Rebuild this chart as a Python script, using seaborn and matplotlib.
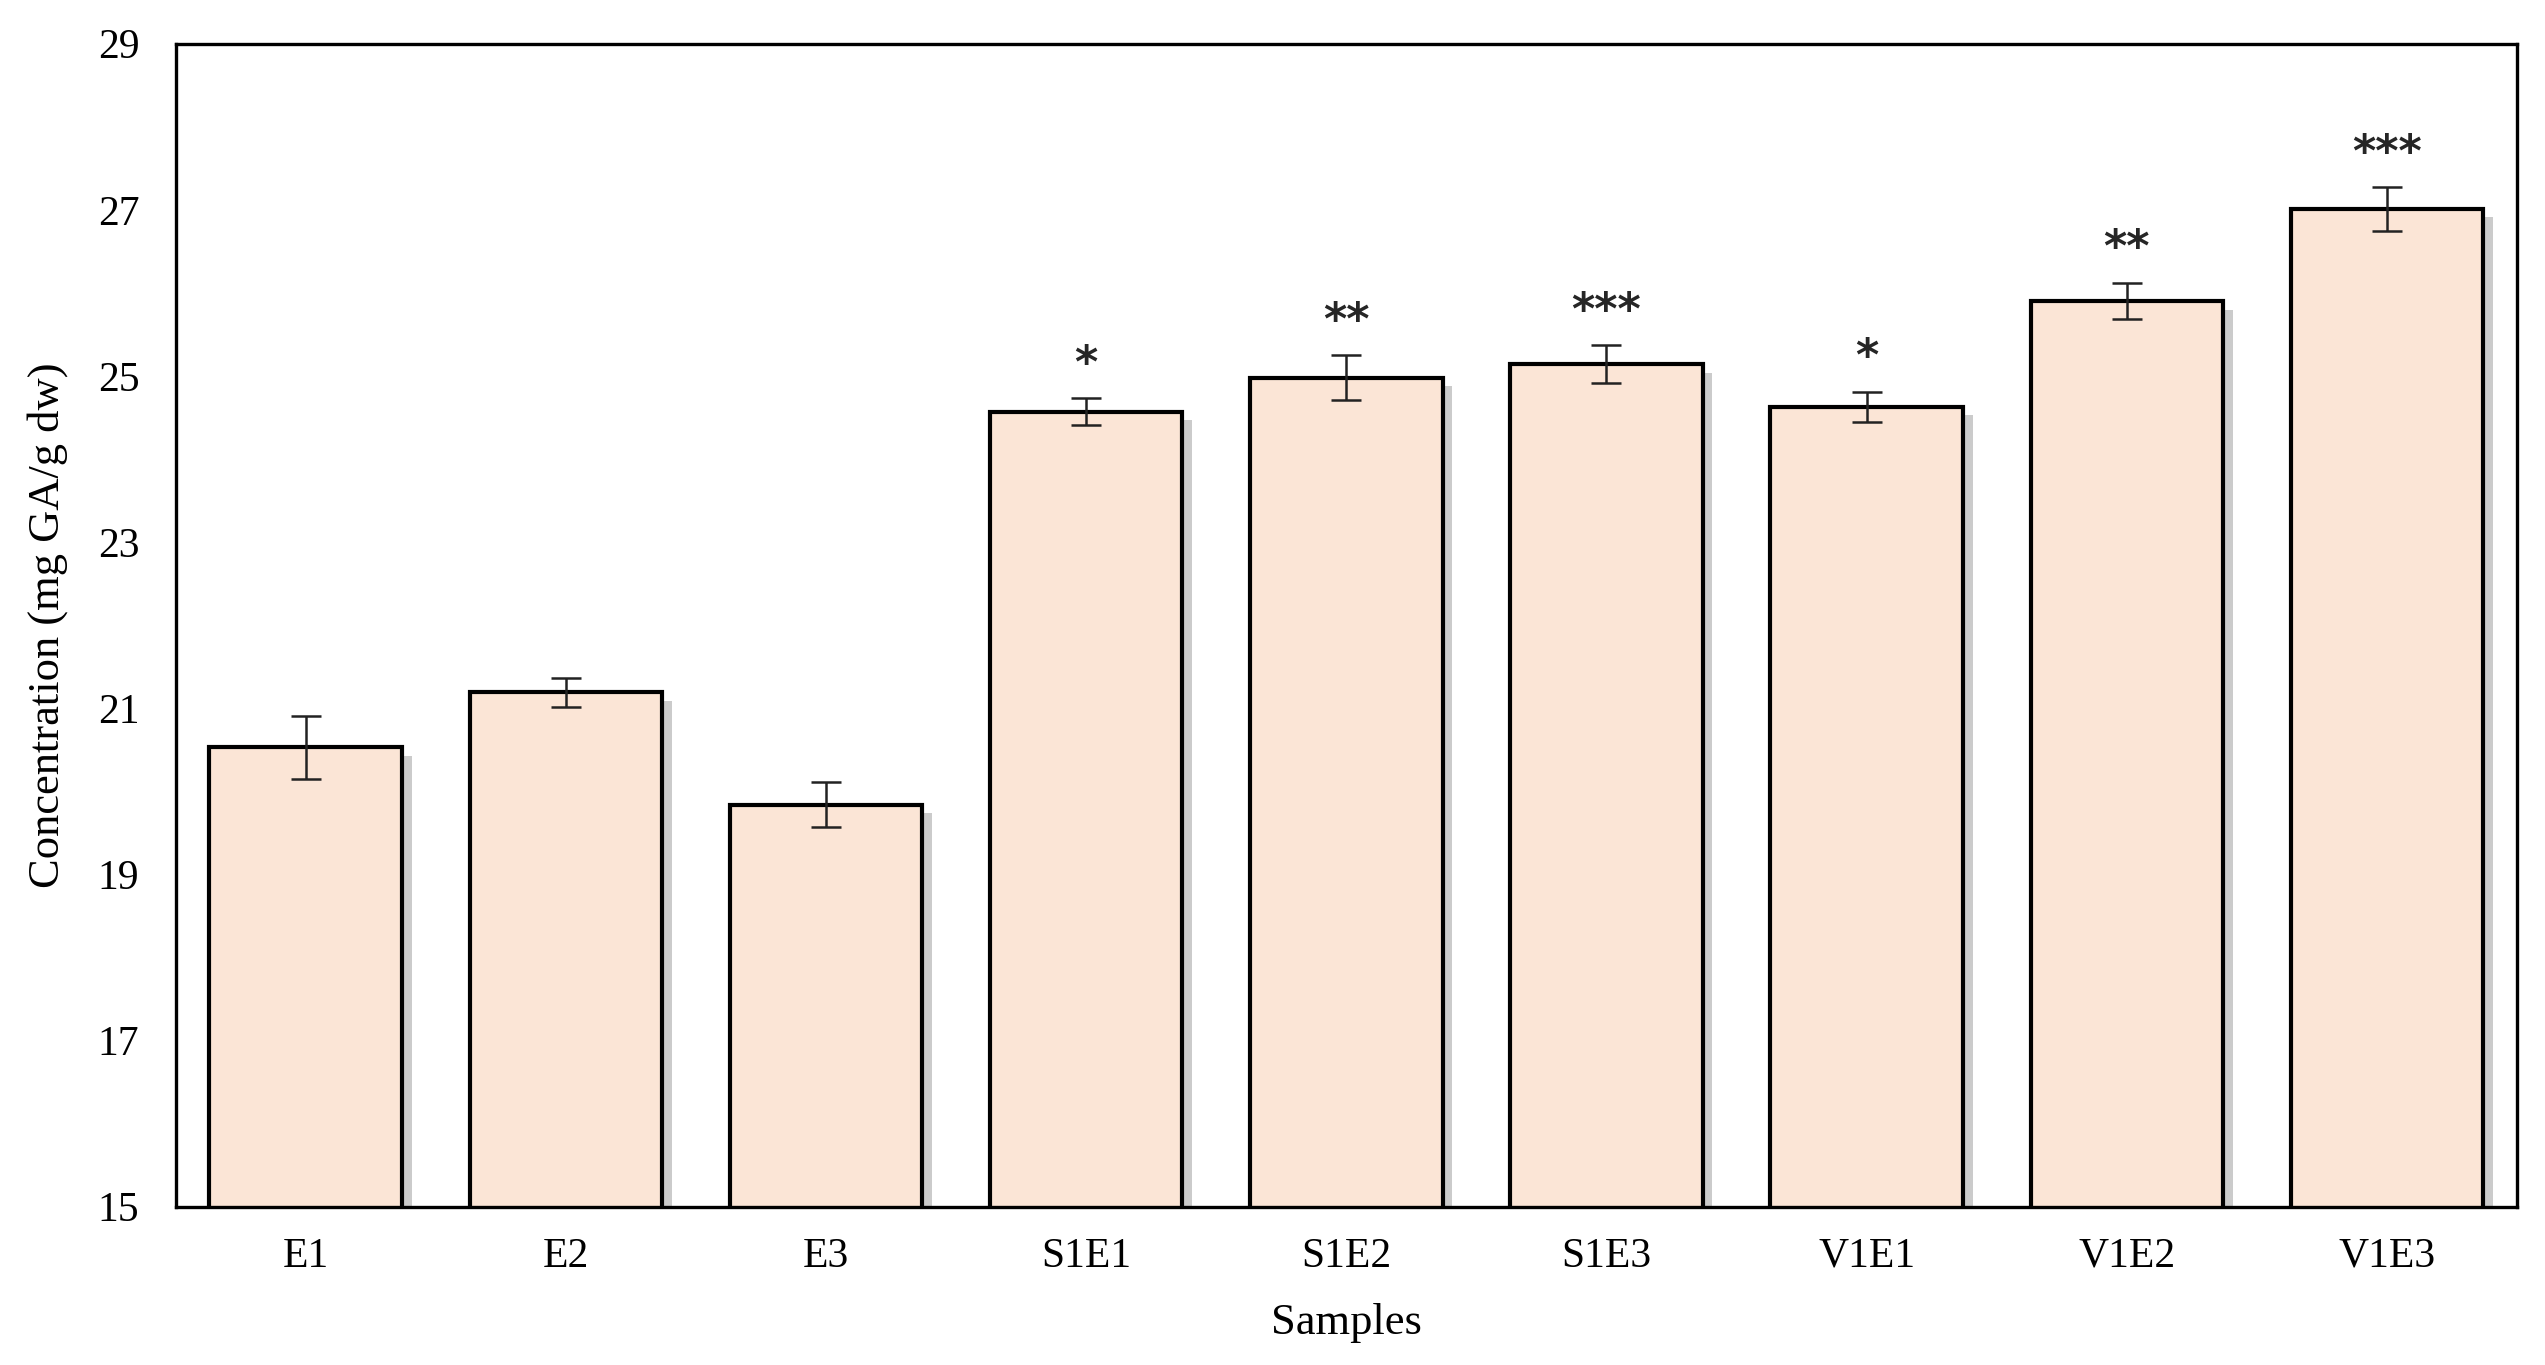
import pandas as pd
import seaborn as sns
import matplotlib.pyplot as plt
import matplotlib.patheffects as pe

# Values
samples = ["E1", "E2", "E3", "S1E1", "S1E2", "S1E3", "V1E1", "V1E2", "V1E3"]
concentration = [20.53, 21.19, 19.84, 24.57, 24.98, 25.14, 24.63, 25.90, 27.01]
errors = [0.38, 0.18, 0.27, 0.16, 0.27, 0.23, 0.18, 0.22, 0.26]
significance = ["", "", "", "*", "**", "***", "*", "**", "***"]
y_ticks = [15, 17, 19, 21, 23, 25, 27, 29]

BAR_COLOR = "#FBE5D6"
FONT_SIZE = 30

df = pd.DataFrame({"Samples": samples, "Concentration": concentration})

sns.set_theme(style="white")
plt.rcParams["font.family"] = ["Liberation Serif", "DejaVu Serif"]

fig = plt.figure(figsize=(25.45, 13.65), dpi=100)
ax = fig.add_axes([0.069, 0.116, 0.92, 0.852])

sns.barplot(data=df, x="Samples", y="Concentration", color=BAR_COLOR,
            width=0.74, edgecolor="black", linewidth=3.0, errorbar=None,
            saturation=1, ax=ax)

# Drop shadow under the bars
for bar in ax.patches:
    bar.set_path_effects([
        pe.SimplePatchShadow(offset=(7, -6), shadow_rgbFace="#7f7f7f", alpha=0.4),
        pe.Normal(),
    ])

# Error bars
ax.errorbar(range(len(samples)), concentration, yerr=errors, fmt="none",
            ecolor="#222222", elinewidth=1.8, capsize=11, capthick=1.8, zorder=5)

# Significance stars
for i, (val, err, sig) in enumerate(zip(concentration, errors, significance)):
    if sig:
        ax.text(i, val + err + 0.15, sig, ha="center", va="bottom",
                fontsize=FONT_SIZE + 2, fontweight="bold", family="DejaVu Sans")

ax.set_ylim(15, 29)
ax.set_xlim(-0.5, len(samples) - 0.5)
ax.set_yticks(y_ticks)
ax.set_yticklabels([str(t) for t in y_ticks])
ax.tick_params(axis="both", length=0, labelsize=FONT_SIZE, colors="black")
ax.tick_params(axis="y", pad=26)
ax.tick_params(axis="x", pad=22)

ax.set_xlabel("Samples", fontsize=FONT_SIZE + 2, color="black")
ax.set_ylabel("Concentration (mg GA/g dw)", fontsize=FONT_SIZE + 2, color="black")
ax.yaxis.set_label_coords(-0.046, 0.5)
ax.xaxis.set_label_coords(0.5, -0.083)

for spine in ax.spines.values():
    spine.set_visible(True)
    spine.set_color("black")
    spine.set_linewidth(2.4)

fig.savefig("out.png", dpi=100)
plt.close(fig)
